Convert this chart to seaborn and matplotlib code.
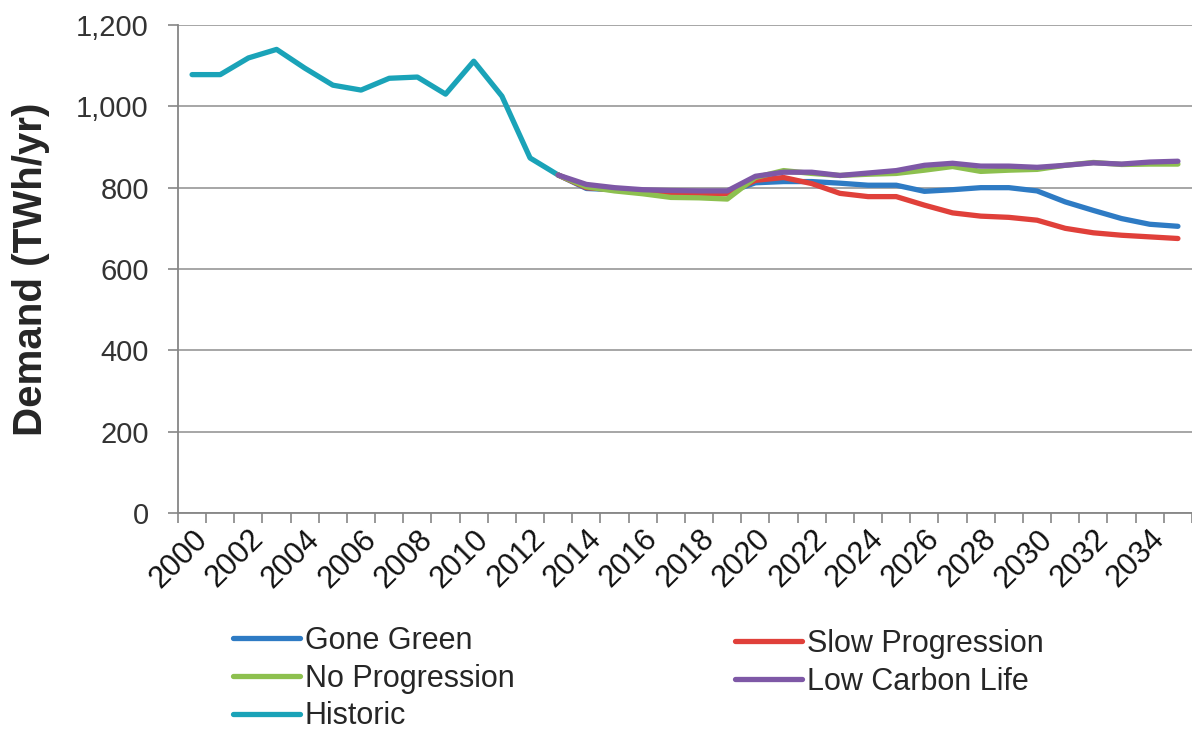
import numpy as np
import pandas as pd
import seaborn as sns
import matplotlib.pyplot as plt
from matplotlib.lines import Line2D
from matplotlib.ticker import FuncFormatter, MultipleLocator

# historic demand, 2000-2013
hist_years = list(range(2000, 2014))
historic = [1078, 1078, 1119, 1140, 1094, 1052, 1040, 1069, 1072, 1030,
            1111, 1025, 873, 831]

# scenarios, 2013-2035
scen_years = list(range(2013, 2036))
gone_green = [831, 798, 795, 790, 788, 787, 788, 812, 815, 815, 811, 806,
              806, 791, 795, 800, 800, 792, 765, 744, 724, 710, 705]
slow_progression = [831, 800, 795, 790, 785, 783, 785, 818, 825, 810, 786,
                    778, 778, 757, 738, 730, 727, 720, 700, 689, 683, 679, 675]
no_progression = [831, 802, 792, 785, 776, 775, 772, 825, 842, 835, 830, 833,
                  835, 843, 852, 840, 843, 845, 855, 862, 857, 858, 858]
low_carbon_life = [831, 808, 800, 795, 793, 792, 792, 828, 838, 838, 830, 836,
                   842, 855, 860, 853, 853, 850, 855, 861, 858, 863, 865]

colors = {'Gone Green': '#2E7BC4', 'Slow Progression': '#E0403A',
          'No Progression': '#8DC04F', 'Low Carbon Life': '#7E58A6',
          'Historic': '#1AA3B8'}

sns.set_theme(style='white')
plt.rcParams['font.family'] = ['Liberation Sans', 'DejaVu Sans']

fig = plt.figure(figsize=(11.92, 7.29), dpi=100)
ax = fig.add_axes([178 / 1192, 1 - 513 / 729, (1192 - 178) / 1192, (513 - 25) / 729])

lw = 3.8
sns.lineplot(x=hist_years, y=historic, ax=ax, color=colors['Historic'], linewidth=lw, zorder=3)
series = {'Gone Green': gone_green, 'Slow Progression': slow_progression,
          'No Progression': no_progression, 'Low Carbon Life': low_carbon_life}
for i, (name, vals) in enumerate(series.items()):
    sns.lineplot(x=scen_years, y=vals, ax=ax, color=colors[name], linewidth=lw, zorder=4 + i)

ax.set_xlim(1999.5, 1999.5 + (1192 - 178) / 28.43)
ax.set_ylim(0, 1200)
ax.yaxis.set_major_locator(MultipleLocator(200))
ax.yaxis.set_major_formatter(FuncFormatter(lambda v, p: f'{int(v):,}'))
ax.set_xticks(list(range(2000, 2036, 2)))
ax.set_xticks([y - 0.5 for y in range(2000, 2037)], minor=True)
ax.set_xticklabels([str(y) for y in range(2000, 2036, 2)], rotation=45,
                   ha='right', va='top', rotation_mode='anchor')

ax.grid(axis='y', color='#A6A6A6', linewidth=1.4)
ax.grid(axis='x', visible=False)
ax.set_axisbelow(True)
for s in ['top', 'right']:
    ax.spines[s].set_visible(False)
for s in ['left', 'bottom']:
    ax.spines[s].set_color('#868686')
    ax.spines[s].set_linewidth(1.3)

ax.tick_params(axis='y', which='major', length=7, width=1.2, color='#868686',
               left=True, pad=14, labelsize=21, labelcolor='#333333')
ax.tick_params(axis='x', which='major', length=0, pad=8, labelsize=22, labelcolor='#111111')
ax.tick_params(axis='x', which='minor', length=7, width=1.2, color='#868686', bottom=True)

ax.set_xlabel('')
ax.set_ylabel('Demand (TWh/yr)', fontsize=29, fontweight='bold', labelpad=19)

def handles(names):
    return [Line2D([0], [0], color=colors[n], linewidth=lw) for n in names]

col1 = ['Gone Green', 'No Progression', 'Historic']
col2 = ['Slow Progression', 'Low Carbon Life']
leg_kw = dict(loc='upper left', frameon=False, fontsize=22, handlelength=2.2,
              handletextpad=0.15, labelspacing=0.25, borderpad=0, borderaxespad=0)
fig.legend(handles(col1), col1, bbox_to_anchor=(233 / 1192, 1 - 626 / 729), **leg_kw)
fig.legend(handles(col2), col2, bbox_to_anchor=(735 / 1192, 1 - 629 / 729), **leg_kw)

fig.savefig('out.png', dpi=100)
